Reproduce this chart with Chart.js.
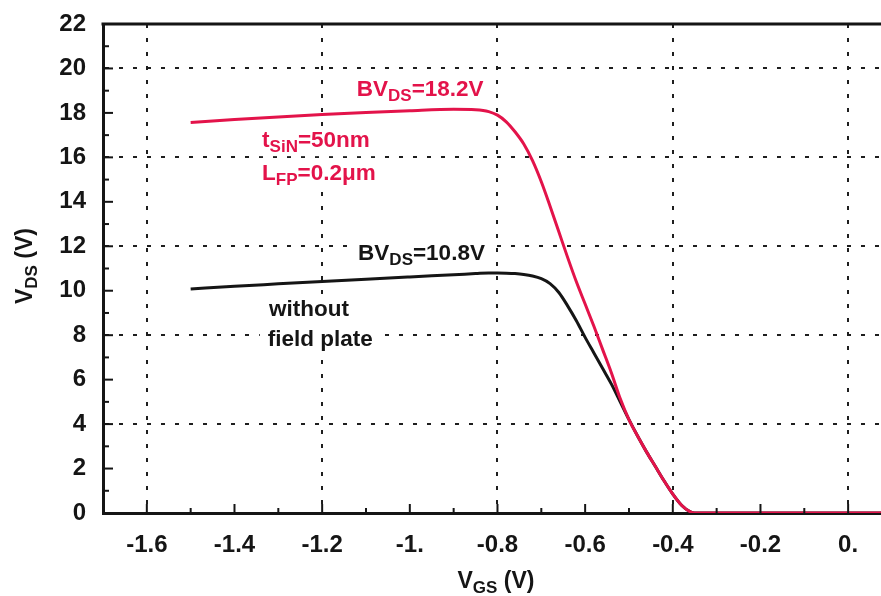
<!DOCTYPE html>
<html>
<head>
<meta charset="utf-8">
<script src="https://cdn.jsdelivr.net/npm/chart.js@4/dist/chart.umd.min.js"></script>
<style>
  body { margin: 0; background: #fff; }
  #wrap { width: 881px; height: 596px; }
</style>
</head>
<body>
<div id="wrap"><canvas id="bvChart" width="881" height="596"></canvas></div>
<script>
// V_GS sample points (V), shared by both curves
const vgs = [-1.5, -1.4, -1.3, -1.2, -1.1, -1.0, -0.9, -0.85, -0.82, -0.8, -0.78, -0.76, -0.74, -0.72, -0.70,
  -0.68, -0.66, -0.64, -0.62, -0.60, -0.58, -0.56, -0.54, -0.52, -0.50, -0.48, -0.46, -0.44, -0.42,
  -0.40, -0.38, -0.36, -0.35, -0.3, -0.2, -0.1, 0, 0.075];
// with field plate (tSiN=50nm, LFP=0.2um)
const vdsFieldPlate = [17.57, 17.7, 17.82, 17.93, 18.02, 18.1, 18.16, 18.14, 18.06, 17.9, 17.6, 17.15, 16.6, 15.85, 14.9,
  13.8, 12.65, 11.5, 10.4, 9.4, 8.4, 7.35, 6.3, 5.15, 4.2, 3.45, 2.75, 2.1, 1.45,
  0.85, 0.35, 0.05, 0, 0, 0, 0, 0, 0];
// without field plate
const vdsNoPlate = [10.08, 10.2, 10.31, 10.42, 10.52, 10.62, 10.72, 10.77, 10.8, 10.8, 10.79, 10.77, 10.73, 10.66, 10.54,
  10.32, 9.92, 9.32, 8.65, 7.9, 7.2, 6.5, 5.8, 5.0, 4.2, 3.45, 2.75, 2.1, 1.45,
  0.85, 0.35, 0.05, 0, 0, 0, 0, 0, 0];

const xTickValues = [-1.6, -1.4, -1.2, -1.0, -0.8, -0.6, -0.4, -0.2, 0];
const xTickLabels = ["-1.6", "-1.4", "-1.2", "-1.", "-0.8", "-0.6", "-0.4", "-0.2", "0."];
const yTickValues = [0, 2, 4, 6, 8, 10, 12, 14, 16, 18, 20, 22];

const RED = '#e3134a';
const INK = '#151515';
const FONT = '"Liberation Sans", Arial, sans-serif';

function toXY(ys) {
  return vgs.map((v, i) => ({ x: v, y: ys[i] }));
}

// text with subscripts: parts = [[text, isSub], ...]
function partsWidth(ctx, parts, size, subSize) {
  let w = 0;
  parts.forEach(p => {
    ctx.font = 'bold ' + (p[1] ? subSize : size) + 'px ' + FONT;
    w += ctx.measureText(p[0]).width;
  });
  return w;
}
function drawParts(ctx, parts, x, y, size, subSize, color) {
  ctx.fillStyle = color;
  ctx.textBaseline = 'alphabetic';
  ctx.textAlign = 'left';
  parts.forEach(p => {
    ctx.font = 'bold ' + (p[1] ? subSize : size) + 'px ' + FONT;
    ctx.fillText(p[0], x, y + (p[1] ? 5 : 0));
    x += ctx.measureText(p[0]).width;
  });
}

const notes = [
  { parts: [['BV', 0], ['DS', 1], ['=18.2V', 0]], x: -1.121, y: 18.76, color: RED, clear: false },
  { parts: [['t', 0], ['SiN', 1], ['=50nm', 0]], x: -1.337, y: 16.46, color: RED, clear: true },
  { parts: [['L', 0], ['FP', 1], ['=0.2\u03bcm', 0]], x: -1.337, y: 14.97, color: RED, clear: true },
  { parts: [['BV', 0], ['DS', 1], ['=10.8V', 0]], x: -1.118, y: 11.36, color: INK, clear: true },
  { parts: [['without', 0]], x: -1.321, y: 8.88, color: INK, clear: true },
  { parts: [['field plate', 0]], x: -1.324, y: 7.53, color: INK, clear: true }
];

const decor = {
  id: 'decor',
  beforeDatasetsDraw(chart) {
    const { ctx, scales: { x, y } } = chart;
    ctx.save();
    ctx.fillStyle = '#fff';
    notes.forEach(n => {
      if (!n.clear) return;
      const px = x.getPixelForValue(n.x), py = y.getPixelForValue(n.y);
      const w = partsWidth(ctx, n.parts, 22.5, 17);
      ctx.fillRect(px - 8, py - 21, w + 16, 30);
    });
    ctx.restore();
  },
  afterDatasetsDraw(chart) {
    const { ctx, chartArea: a, scales: { x, y } } = chart;
    ctx.save();
    // top frame
    ctx.strokeStyle = INK;
    ctx.lineWidth = 3;
    ctx.beginPath();
    ctx.moveTo(a.left - 1.5, a.top);
    ctx.lineTo(a.right, a.top);
    ctx.stroke();
    // inward tick marks
    ctx.lineWidth = 2;
    for (let k = -16; k <= 0; k++) {
      const px = x.getPixelForValue(k / 10);
      const len = (k % 2 === 0) ? 9 : 5;
      ctx.beginPath();
      ctx.moveTo(px, a.bottom);
      ctx.lineTo(px, a.bottom - len);
      ctx.stroke();
    }
    for (let k = 1; k < 22; k++) {
      const py = y.getPixelForValue(k);
      const len = (k % 2 === 0) ? 10 : 6;
      ctx.beginPath();
      ctx.moveTo(a.left, py);
      ctx.lineTo(a.left + len, py);
      ctx.stroke();
    }
    // annotations
    notes.forEach(n => {
      drawParts(ctx, n.parts, x.getPixelForValue(n.x), y.getPixelForValue(n.y), 22.5, 17, n.color);
    });
    // axis titles
    const xt = [['V', 0], ['GS', 1], [' (V)', 0]];
    const xw = partsWidth(ctx, xt, 23, 17);
    drawParts(ctx, xt, 496 - xw / 2, 588, 23, 17, INK);
    const yt = [['V', 0], ['DS', 1], [' (V)', 0]];
    const yw = partsWidth(ctx, yt, 23, 17);
    ctx.translate(32, 266);
    ctx.rotate(-Math.PI / 2);
    drawParts(ctx, yt, -yw / 2, 0, 23, 17, INK);
    ctx.restore();
  }
};

const gridDash = [4, 10];

new Chart(document.getElementById('bvChart'), {
  type: 'scatter',
  data: {
    datasets: [{
      label: 'with field plate',
      data: toXY(vdsFieldPlate),
      showLine: true,
      borderColor: RED,
      borderWidth: 3,
      pointRadius: 0,
      cubicInterpolationMode: 'monotone'
    }, {
      label: 'without field plate',
      data: toXY(vdsNoPlate),
      showLine: true,
      borderColor: INK,
      borderWidth: 3,
      pointRadius: 0,
      cubicInterpolationMode: 'monotone'
    }]
  },
  options: {
    responsive: false,
    animation: false,
    layout: { padding: { top: 24, right: 0, left: 0, bottom: 0 } },
    plugins: { legend: { display: false }, tooltip: { enabled: false } },
    scales: {
      x: {
        type: 'linear',
        min: -1.7,
        max: 0.075,
        afterBuildTicks: s => { s.ticks = xTickValues.map(v => ({ value: v })); },
        afterFit: s => { s.height = 83; s.paddingLeft = 0; s.paddingRight = 0; },
        ticks: {
          autoSkip: false,
          maxRotation: 0,
          padding: 18,
          color: INK,
          font: { family: FONT, size: 24, weight: 'bold' },
          callback: (v, i) => xTickLabels[i]
        },
        grid: {
          drawTicks: false,
          lineWidth: 2,
          color: c => (c.tick && Math.round(c.tick.value * 10) % 4 === 0) ? '#1e1e1e' : 'rgba(0,0,0,0)'
        },
        border: { display: true, color: INK, width: 3, dash: gridDash }
      },
      y: {
        min: 0,
        max: 22,
        afterBuildTicks: s => { s.ticks = yTickValues.map(v => ({ value: v })); },
        afterFit: s => { s.width = 103; s.paddingTop = 0; s.paddingBottom = 0; },
        ticks: {
          padding: 17,
          color: INK,
          font: { family: FONT, size: 24, weight: 'bold' }
        },
        grid: {
          drawTicks: false,
          lineWidth: 2,
          color: c => (c.tick && c.tick.value > 0 && c.tick.value < 22 && c.tick.value % 4 === 0) ? '#1e1e1e' : 'rgba(0,0,0,0)'
        },
        border: { display: true, color: INK, width: 3, dash: gridDash }
      }
    }
  },
  plugins: [decor]
});
</script>
</body>
</html>
